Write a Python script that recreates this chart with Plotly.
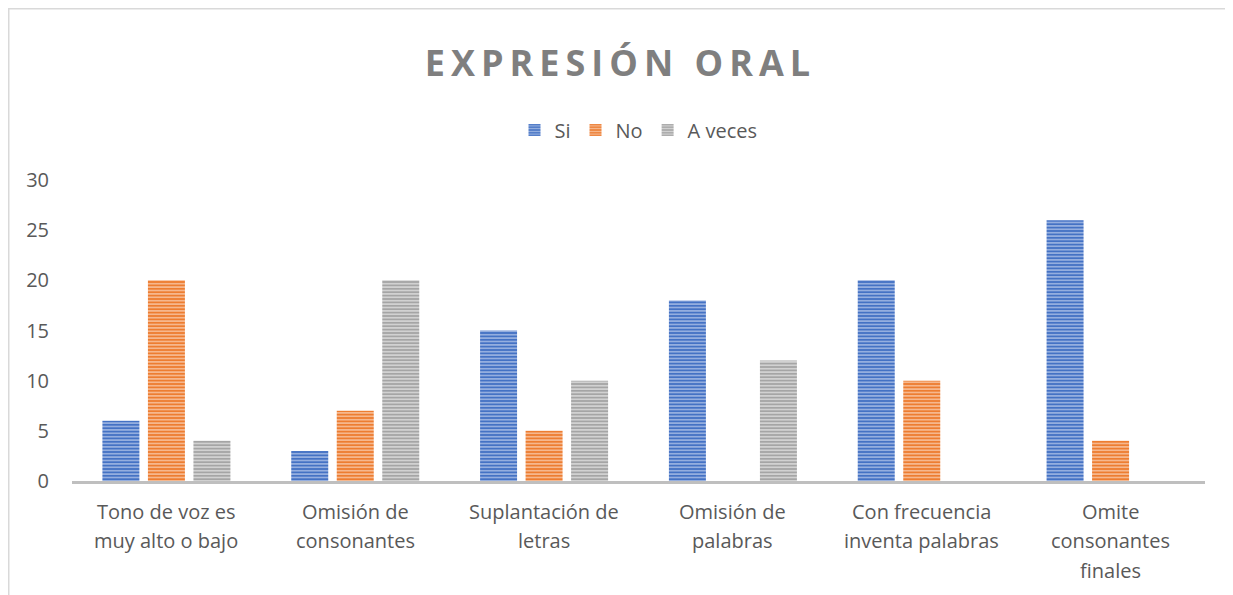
import plotly.graph_objects as go

categories = ["Tono de voz es muy alto o bajo", "Omisión de consonantes", "Suplantación de letras",
              "Omisión de palabras", "Con frecuencia inventa palabras", "Omite consonantes finales"]
label_lines = [["Tono de voz es", "muy alto o bajo"], ["Omisión de", "consonantes"],
               ["Suplantación de", "letras"], ["Omisión de", "palabras"],
               ["Con frecuencia", "inventa palabras"], ["Omite", "consonantes", "finales"]]
series_names = ["Si", "No", "A veces"]
si = [6, 3, 15, 18, 20, 26]
no = [20, 7, 5, 0, 10, 4]
a_veces = [4, 20, 10, 12, 0, 0]
y_ticks = [0, 5, 10, 15, 20, 25, 30]

colors = [("#4472C4", "#9DB5E2"), ("#ED7D31", "#F7BE98"), ("#A5A5A5", "#D6D6D6")]
FONT = "Open Sans"
TXT = "#595959"

W, H = 1225, 587
ML, MR, MT, MB = 64, 28, 172, 114
PW, PH = W - ML - MR, H - MT - MB

fig = go.Figure()
for name, vals, (bg, fg) in zip(series_names, [si, no, a_veces], colors):
    fig.add_trace(go.Bar(
        name=name, x=categories, y=vals,
        marker=dict(color=bg, line=dict(width=0),
                    pattern=dict(shape="-", bgcolor=bg, fgcolor=fg, size=3.4,
                                 solidity=0.45, fillmode="replace")),
    ))

annotations = []
for cat, lines in zip(categories, label_lines):
    for i, ln in enumerate(lines):
        annotations.append(dict(x=cat, xref="x", y=0, yref="paper", text=ln, showarrow=False,
                                yanchor="middle", yshift=-30 - 29.5 * i,
                                font=dict(family=FONT, size=20, color=TXT)))

fig.update_layout(
    width=W, height=H,
    margin=dict(l=ML, r=MR, t=MT, b=MB),
    paper_bgcolor="white", plot_bgcolor="white",
    barmode="group", bargap=0.277, bargroupgap=0.187,
    title=dict(text='<span style="letter-spacing:6px">EXPRESIÓN ORAL</span>',
               x=0.5, xanchor="center", y=1 - 55 / H, yanchor="middle",
               font=dict(family=FONT, size=36, color="#7F7F7F", weight="bold")),
    legend=dict(orientation="h", x=0.5, xanchor="center", y=1 + (MT - 122) / PH, yanchor="middle",
                font=dict(family=FONT, size=20, color=TXT), itemwidth=30,
                bgcolor="rgba(0,0,0,0)"),
    xaxis=dict(showticklabels=False, showline=True, linecolor="#BFBFBF", linewidth=3,
               ticks="", showgrid=False, zeroline=False),
    yaxis=dict(range=[0, 30], tickvals=y_ticks, showgrid=False, zeroline=False,
               showline=False, ticks="outside", ticklen=18, tickcolor="rgba(0,0,0,0)",
               tickfont=dict(family=FONT, size=20, color=TXT)),
    annotations=annotations,
    shapes=[dict(type="rect", xref="paper", yref="paper",
                 x0=(0.75 - ML) / PW, x1=1.2, y0=-1, y1=1 + (MT - 0.75) / PH,
                 line=dict(color="#D9D9D9", width=1.5), fillcolor="rgba(0,0,0,0)", layer="below")],
)

fig.write_html("out.html")
